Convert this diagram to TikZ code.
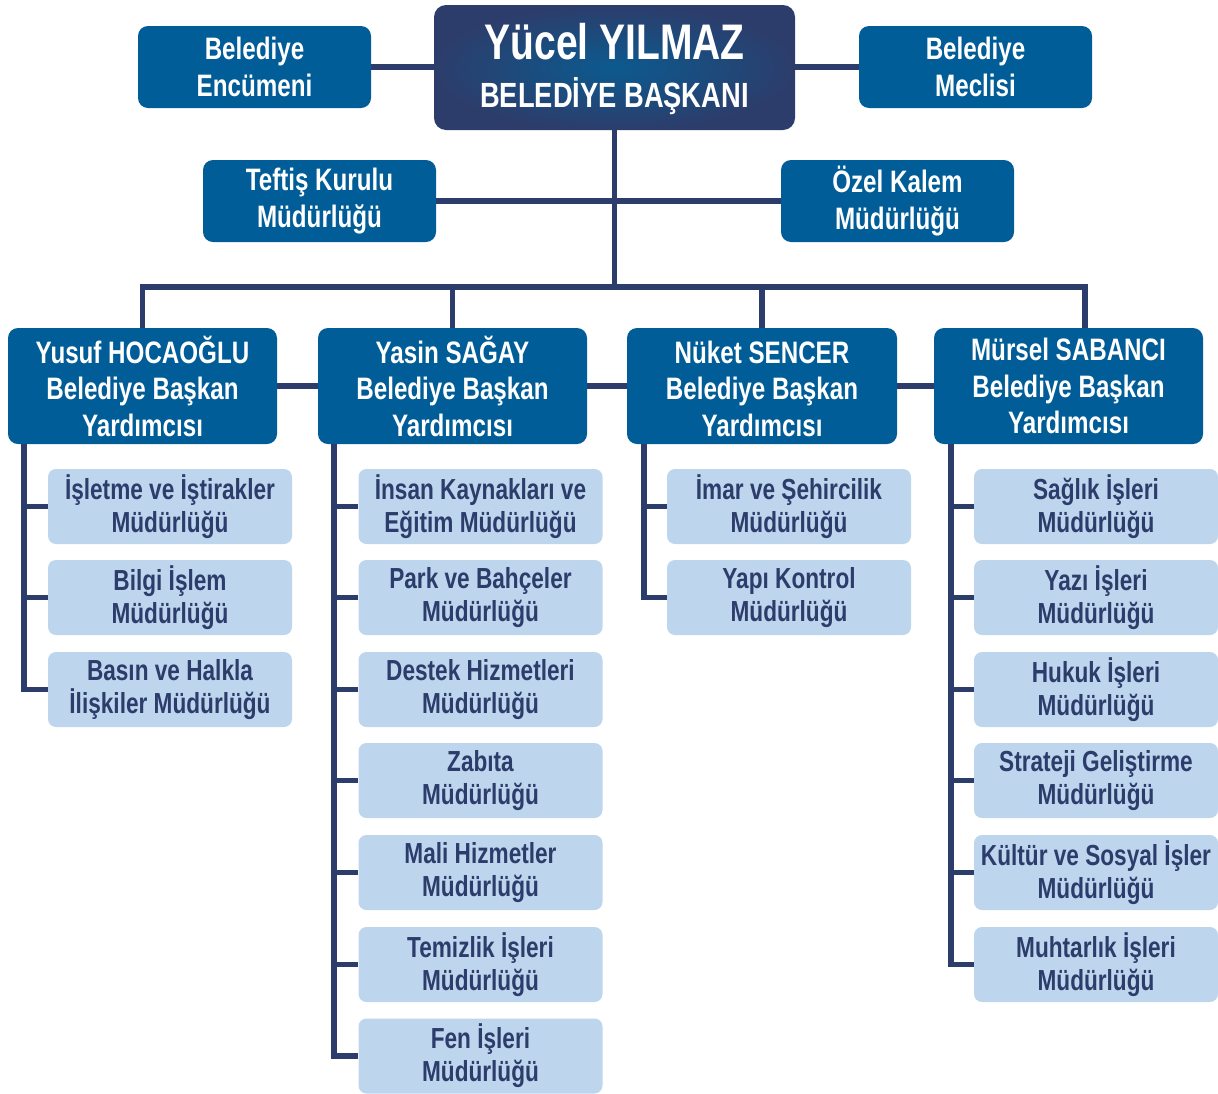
\documentclass[tikz,border=0pt]{standalone}
\usepackage{fontspec}
\setmainfont[FakeStretch=0.78]{Liberation Sans}
\usetikzlibrary{backgrounds}
\definecolor{navy}{HTML}{2C3D6B}
\definecolor{dblue}{HTML}{005D98}
\definecolor{lblue}{HTML}{BED5EE}
\definecolor{tin}{HTML}{0C5A8F}
\tikzset{
  conn/.style={draw=navy, line width=5.5pt, line join=miter},
  dbox/.style={fill=dblue, rounded corners=10pt, text=white, align=center, inner sep=0pt,
    font=\bfseries\fontsize{31}{36.5}\selectfont},
  lbox/.style={fill=lblue, rounded corners=8pt, text=navy, align=center, inner sep=0pt,
    minimum width=244pt, minimum height=75pt, font=\bfseries\fontsize{29}{33}\selectfont},
  topbox/.style={rounded corners=12pt, inner color=tin, outer color=navy, inner sep=0pt,
    minimum width=361pt, minimum height=125pt},
  toptext/.style={text=white, anchor=base, inner sep=0pt},
}
\begin{document}
\begin{tikzpicture}[x=1pt,y=-1pt]
\useasboundingbox (0,0) rectangle (1218,1093);
% top
\node[topbox] (top) at (614.5,67.5) {};
\node[toptext, font=\bfseries\fontsize{50}{50}\selectfont] (topname) at (614.5,59) {Yücel YILMAZ};
\node[toptext, font=\bfseries\fontsize{35}{35}\selectfont] (toptitle) at (614.5,107) {BELEDİYE BAŞKANI};
\node[dbox, minimum width=233pt, minimum height=82pt] (enc) at (254.5,67) {Belediye\\Encümeni};
\node[dbox, minimum width=233pt, minimum height=82pt] (mec) at (975.5,67) {Belediye\\Meclisi};
\node[dbox, minimum width=233pt, minimum height=82pt] (tef) at (319.5,201) {Teftiş Kurulu\\Müdürlüğü};
\node[dbox, minimum width=233pt, minimum height=82pt] (oze) at (897.5,201) {Özel Kalem\\Müdürlüğü};
% deputies
\node[dbox, minimum width=269pt, minimum height=116pt] (d1) at (142.5,386) {Yusuf HOCAOĞLU\\Belediye Başkan\\Yardımcısı};
\node[dbox, minimum width=269pt, minimum height=116pt] (d2) at (452.5,386) {Yasin SAĞAY\\Belediye Başkan\\Yardımcısı};
\node[dbox, minimum width=270pt, minimum height=116pt] (d3) at (762,386) {\vphantom{Ğ}Nüket SENCER\\Belediye Başkan\\Yardımcısı};
\node[dbox, minimum width=269pt, minimum height=116pt] (d4) at (1068.5,386) {Mürsel SABANCI\\Belediye Başkan\\Yardımcısı};
% column 1
\node[lbox] (a1) at (170,506.5) {İşletme ve İştirakler\\Müdürlüğü};
\node[lbox] (a2) at (170,597.5) {Bilgi İşlem\\Müdürlüğü};
\node[lbox] (a3) at (170,689.5) {Basın ve Halkla\\İlişkiler Müdürlüğü};
% column 2
\node[lbox] (b1) at (480.5,506.5) {İnsan Kaynakları ve\\Eğitim Müdürlüğü};
\node[lbox] (b2) at (480.5,597.5) {Park ve Bahçeler\\Müdürlüğü};
\node[lbox] (b3) at (480.5,689.5) {Destek Hizmetleri\\Müdürlüğü};
\node[lbox] (b4) at (480.5,780.5) {Zabıta\\Müdürlüğü};
\node[lbox] (b5) at (480.5,872.5) {Mali Hizmetler\\Müdürlüğü};
\node[lbox] (b6) at (480.5,964.5) {Temizlik İşleri\\Müdürlüğü};
\node[lbox] (b7) at (480.5,1056) {Fen İşleri\\Müdürlüğü};
% column 3
\node[lbox] (c1) at (789,506.5) {İmar ve Şehircilik\\Müdürlüğü};
\node[lbox] (c2) at (789,597.5) {Yapı Kontrol\\Müdürlüğü};
% column 4
\node[lbox] (e1) at (1096,506.5) {Sağlık İşleri\\Müdürlüğü};
\node[lbox] (e2) at (1096,597.5) {Yazı İşleri\\Müdürlüğü};
\node[lbox] (e3) at (1096,689.5) {Hukuk İşleri\\Müdürlüğü};
\node[lbox] (e4) at (1096,780.5) {Strateji Geliştirme\\Müdürlüğü};
\node[lbox] (e5) at (1096,872.5) {Kültür ve Sosyal İşler\\Müdürlüğü};
\node[lbox] (e6) at (1096,964.5) {Muhtarlık İşleri\\Müdürlüğü};
\coordinate (busY) at (0,287);
\coordinate (t1) at (24,444);
\coordinate (t2) at (334,444);
\coordinate (t3) at (644,444);
\coordinate (t4) at (951,444);
\coordinate (d4top) at (1085,328);
\begin{scope}[on background layer]
\draw[conn] (enc.east) -- (enc.east -| top.west);
\draw[conn] (mec.west) -- (mec.west -| top.east);
\draw[conn] (top.south) -- (top.south |- busY);
\draw[conn] (tef.east) -- (tef.east -| top.south);
\draw[conn] (oze.west) -- (oze.west -| top.south);
\draw[conn] (d1.north) -- (d1.north |- busY) -- (d4top |- busY) -- (d4top);
\draw[conn] (d2.north) -- (d2.north |- busY);
\draw[conn] (d3.north) -- (d3.north |- busY);
\draw[conn] (d1.east) -- (d2.west);
\draw[conn] (d2.east) -- (d3.west);
\draw[conn] (d3.east) -- (d4.west);
% column lines
\draw[conn] (t1) -- (t1 |- a3.west) -- (a3.west);
\draw[conn] (t1 |- a1.west) -- (a1.west);
\draw[conn] (t1 |- a2.west) -- (a2.west);
\draw[conn] (t2) -- (t2 |- b7.west) -- (b7.west);
\foreach \n in {b1,b2,b3,b4,b5,b6} \draw[conn] (t2 |- \n.west) -- (\n.west);
\draw[conn] (t3) -- (t3 |- c2.west) -- (c2.west);
\draw[conn] (t3 |- c1.west) -- (c1.west);
\draw[conn] (t4) -- (t4 |- e6.west) -- (e6.west);
\foreach \n in {e1,e2,e3,e4,e5} \draw[conn] (t4 |- \n.west) -- (\n.west);
\end{scope}
\end{tikzpicture}
\end{document}
